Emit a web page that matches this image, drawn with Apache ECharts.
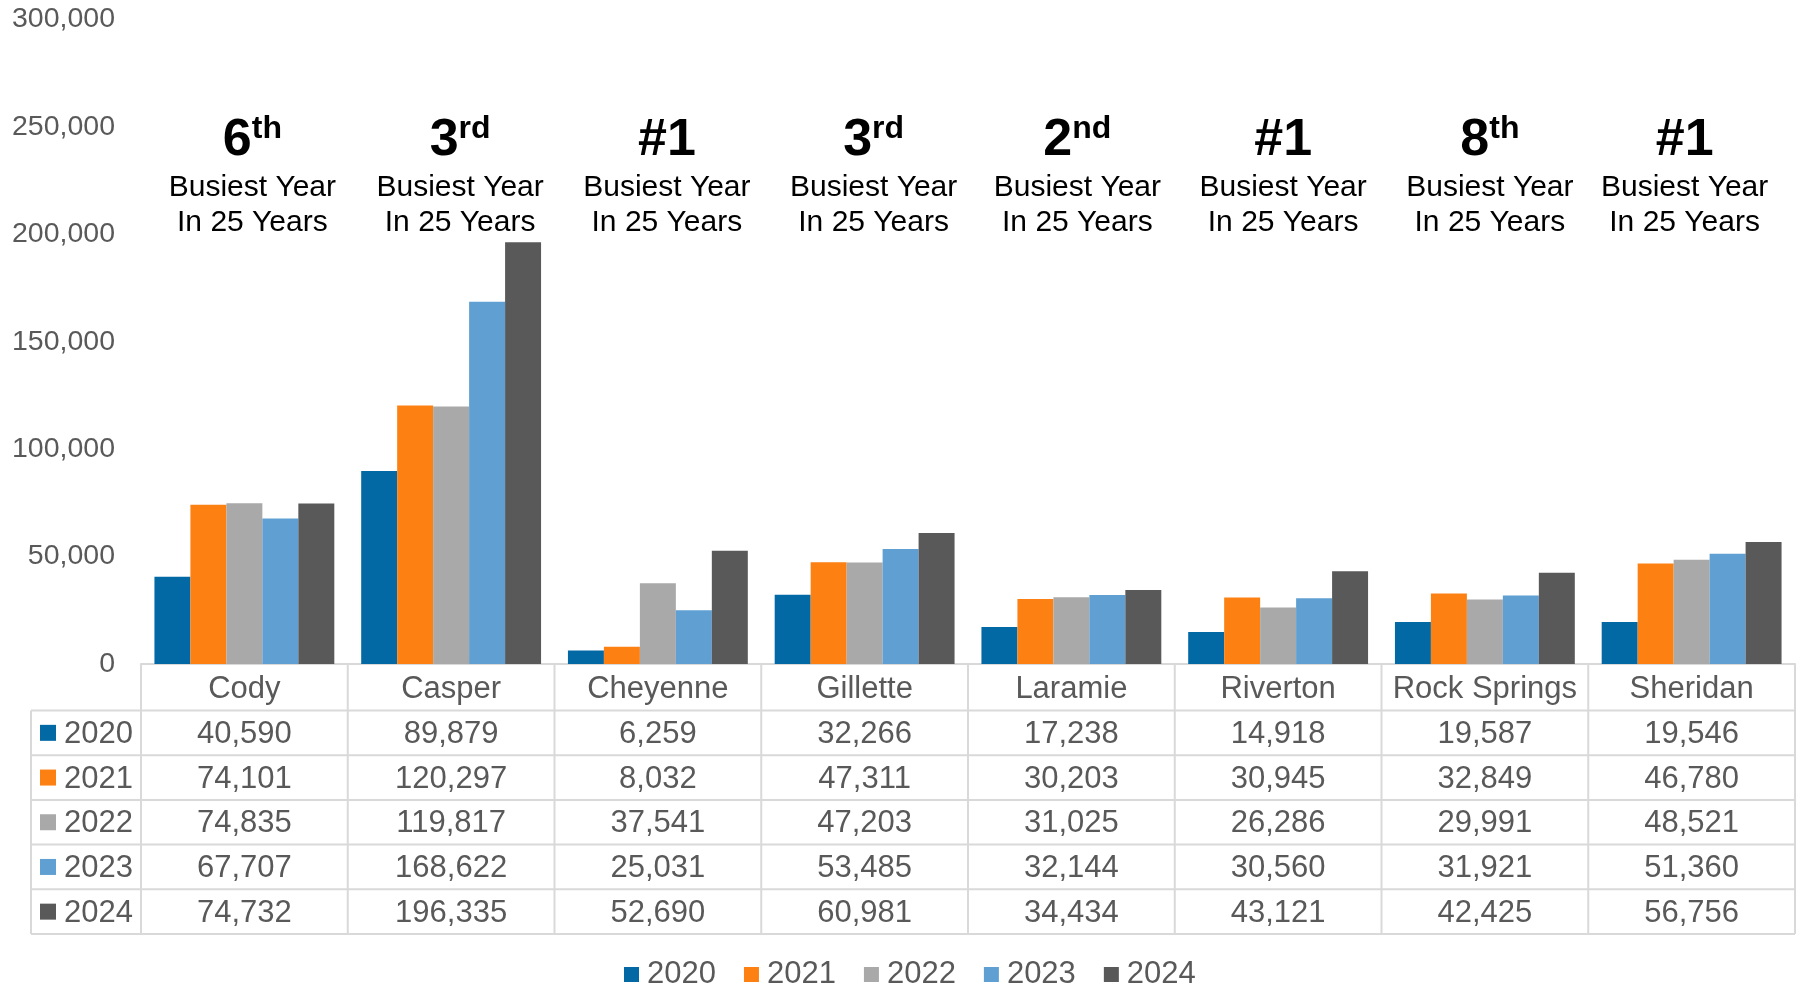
<!DOCTYPE html>
<html>
<head>
<meta charset="utf-8">
<script src="https://cdn.jsdelivr.net/npm/echarts@6/dist/echarts.min.js"></script>
<style>
  html, body { margin: 0; padding: 0; background: #fff; }
  #chart { width: 1802px; height: 986px; }
</style>
</head>
<body>
<div id="chart"></div>
<script>
// airports and yearly passenger counts
const categories = ['Cody', 'Casper', 'Cheyenne', 'Gillette', 'Laramie', 'Riverton', 'Rock Springs', 'Sheridan']
const years = ['2020', '2021', '2022', '2023', '2024']
const v2020 = [40590, 89879, 6259, 32266, 17238, 14918, 19587, 19546]
const v2021 = [74101, 120297, 8032, 47311, 30203, 30945, 32849, 46780]
const v2022 = [74835, 119817, 37541, 47203, 31025, 26286, 29991, 48521]
const v2023 = [67707, 168622, 25031, 53485, 32144, 30560, 31921, 51360]
const v2024 = [74732, 196335, 52690, 60981, 34434, 43121, 42425, 56756]
const values = [v2020, v2021, v2022, v2023, v2024]
// "busiest year" rank shown above each airport
const rankMain = ['6', '3', '#1', '3', '2', '#1', '8', '#1']
const rankSup = ['th', 'rd', '', 'rd', 'nd', '', 'th', '']
const yTicks = [0, 50000, 100000, 150000, 200000, 250000, 300000]

const colors = ['#0369a5', '#fd8013', '#a9a9a9', '#5f9fd2', '#595959']
const FONT = '"Liberation Sans", Arial, sans-serif'
const TXT = '#595959'
const LINE = '#d9d9d9'

const chart = echarts.init(document.getElementById('chart'))

const option = {
  animation: false,
  grid: { left: 141, right: 7, top: 19.5, bottom: 322 },
  legend: {
    data: years,
    left: 619,
    top: 954,
    icon: 'rect',
    itemWidth: 15,
    itemHeight: 15,
    itemGap: 28,
    textStyle: { fontSize: 31, color: TXT, fontFamily: FONT, padding: [0, 0, 0, 3] }
  },
  xAxis: {
    type: 'category',
    data: categories,
    axisLine: { lineStyle: { color: LINE, width: 2 } },
    axisTick: { show: false },
    axisLabel: { show: false }
  },
  yAxis: {
    type: 'value',
    min: yTicks[0],
    max: yTicks[yTicks.length - 1],
    interval: yTicks[1] - yTicks[0],
    splitLine: { show: false },
    axisLabel: {
      fontSize: 28.5,
      color: TXT,
      fontFamily: FONT,
      margin: 26,
      formatter: v => v.toLocaleString('en-US')
    }
  },
  series: years.map((y, i) => ({
    name: y,
    type: 'bar',
    data: values[i],
    barGap: 0,
    barCategoryGap: '13%',
    itemStyle: { color: colors[i] }
  }))
}
chart.setOption(option)

// data table + annotations placed from axis geometry
const c0 = chart.convertToPixel({ xAxisIndex: 0 }, 0)
const band = chart.convertToPixel({ xAxisIndex: 0 }, 1) - c0
const colLeft = c0 - band / 2
const colRight = colLeft + band * categories.length
const tableTop = chart.convertToPixel({ yAxisIndex: 0 }, 0)
const tableLeft = 31
const headerH = 46.5
const rowH = 44.7
const tableBottom = tableTop + headerH + rowH * years.length

const g = []
const line = (x1, y1, x2, y2) => g.push({
  type: 'line', silent: true,
  shape: { x1, y1, x2, y2 },
  style: { stroke: LINE, lineWidth: 2 }
})
const text = (x, y, s, align) => g.push({
  type: 'text', silent: true, x, y,
  style: { text: s, fill: TXT, font: '31px ' + FONT, textAlign: align || 'center', textVerticalAlign: 'middle' }
})

for (let i = 0; i <= categories.length; i++) {
  line(colLeft + i * band, tableTop, colLeft + i * band, tableBottom)
}
line(tableLeft, tableTop + headerH, tableLeft, tableBottom)
for (let r = 0; r <= years.length; r++) {
  const y = tableTop + headerH + r * rowH
  line(tableLeft, y, colRight, y)
}
categories.forEach((c, i) => text(colLeft + (i + 0.5) * band, tableTop + headerH / 2 + 2, c))
years.forEach((yr, r) => {
  const cy = tableTop + headerH + (r + 0.5) * rowH
  g.push({ type: 'rect', silent: true, shape: { x: 40, y: cy - 8, width: 16, height: 16 }, style: { fill: colors[r] } })
  text(64, cy + 1.5, yr, 'left')
  values[r].forEach((v, i) => text(colLeft + (i + 0.5) * band, cy + 1.5, v.toLocaleString('en-US')))
})

const annShift = [8, 9, 9, 9, 6, 5, 5, -7]
categories.forEach((c, i) => {
  const cx = colLeft + (i + 0.5) * band + annShift[i]
  const sup = rankSup[i] ? '{sup|' + rankSup[i] + '}' : ''
  g.push({
    type: 'text', silent: true, x: cx, y: 140.5,
    style: {
      text: '{big|' + rankMain[i] + '}' + sup,
      textAlign: 'center',
      textVerticalAlign: 'middle',
      fill: '#000',
      rich: {
        big: { fontSize: 52, fontWeight: 'bold', fontFamily: FONT, lineHeight: 64, fill: '#000' },
        sup: { fontSize: 32, fontWeight: 'bold', fontFamily: FONT, padding: [0, 0, 22, 0], fill: '#000' }
      }
    }
  })
  g.push({
    type: 'text', silent: true, x: cx, y: 170,
    style: {
      text: 'Busiest Year\nIn 25 Years',
      textAlign: 'center',
      textVerticalAlign: 'top',
      fill: '#000',
      font: '30px ' + FONT,
      lineHeight: 35
    }
  })
})

chart.setOption({ graphic: { elements: g } })
</script>
</body>
</html>
